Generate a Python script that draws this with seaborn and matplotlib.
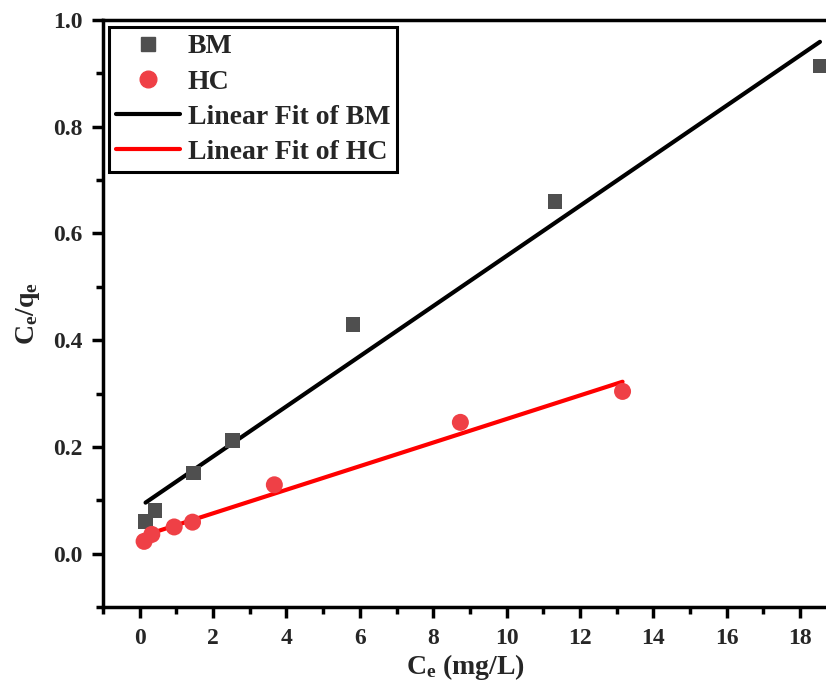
import matplotlib
matplotlib.use("Agg")
import matplotlib.pyplot as plt
import seaborn as sns
import pandas as pd
import numpy as np
from matplotlib.ticker import MultipleLocator
from matplotlib.lines import Line2D

# Data
bm_x = [0.16, 0.42, 1.46, 2.53, 5.81, 11.32, 18.54]
bm_y = [0.060, 0.081, 0.151, 0.212, 0.429, 0.660, 0.914]
hc_x = [0.12, 0.33, 0.94, 1.44, 3.67, 8.74, 13.16]
hc_y = [0.023, 0.036, 0.050, 0.059, 0.129, 0.246, 0.304]
x_ticks = [0, 2, 4, 6, 8, 10, 12, 14, 16, 18]
y_ticks = [0.0, 0.2, 0.4, 0.6, 0.8, 1.0]

sns.set_theme(style="white")
plt.rcParams['font.family'] = ['Liberation Serif', 'DejaVu Serif']
plt.rcParams['font.weight'] = 'bold'
plt.rcParams['mathtext.fontset'] = 'custom'
plt.rcParams['mathtext.rm'] = 'Liberation Serif:bold'
plt.rcParams['mathtext.it'] = 'Liberation Serif:bold'
plt.rcParams['mathtext.bf'] = 'Liberation Serif:bold'

bm = pd.DataFrame({"x": bm_x, "y": bm_y})
hc = pd.DataFrame({"x": hc_x, "y": hc_y})

fig = plt.figure(figsize=(8.26, 6.90), dpi=100)
ax = fig.add_axes([103/826, 1-607/690, 1 - 103/826 + 0.002, (607-20)/690])

sq_color = "#4f4f4f"
ci_color = "#ef4046"

sns.scatterplot(data=bm, x="x", y="y", marker="s", s=110, color=sq_color,
                edgecolor="none", ax=ax, zorder=3)
sns.scatterplot(data=hc, x="x", y="y", marker="o", s=150, color=ci_color,
                edgecolor="none", ax=ax, zorder=3)
sns.regplot(data=bm, x="x", y="y", scatter=False, ci=None, truncate=True,
            line_kws=dict(color="black", lw=3), ax=ax)
sns.regplot(data=hc, x="x", y="y", scatter=False, ci=None, truncate=True,
            line_kws=dict(color="#ff0000", lw=3), ax=ax)

ax.set_xlim(-1, 18.75)
ax.set_ylim(-0.1, 1.0)
ax.set_xticks(x_ticks)
ax.set_yticks(y_ticks)
ax.set_xticklabels([str(t) for t in x_ticks], fontsize=17, fontweight="bold")
ax.set_yticklabels([f"{t:.1f}" for t in y_ticks], fontsize=17, fontweight="bold")
ax.xaxis.set_minor_locator(MultipleLocator(1))
ax.yaxis.set_minor_locator(MultipleLocator(0.1))
ax.tick_params(which="major", direction="out", length=8, width=2.5,
               color="black", bottom=True, left=True, pad=7)
ax.tick_params(which="minor", direction="out", length=5, width=2.5,
               color="black", bottom=True, left=True)

for side in ["left", "bottom", "top"]:
    ax.spines[side].set_visible(True)
    ax.spines[side].set_color("black")
    ax.spines[side].set_linewidth(2.5)
ax.spines["right"].set_visible(False)

ax.set_xlabel(r"C$_{\mathrm{e}}$ (mg/L)", fontsize=20, fontweight="bold", labelpad=2)
ax.set_ylabel(r"C$_{\mathrm{e}}$/q$_{\mathrm{e}}$", fontsize=20, fontweight="bold", labelpad=8)

handles = [
    Line2D([], [], marker="s", ls="none", color=sq_color, markersize=10),
    Line2D([], [], marker="o", ls="none", color=ci_color, markersize=12),
    Line2D([], [], color="black", lw=3),
    Line2D([], [], color="#ff0000", lw=3),
]
labels = ["BM", "HC", "Linear Fit of BM", "Linear Fit of HC"]
leg = ax.legend(handles, labels, loc="upper left", bbox_to_anchor=(0.008, 0.988),
                fancybox=False, frameon=True, edgecolor="black", framealpha=1,
                prop={"family": "Liberation Serif", "weight": "bold", "size": 20},
                handlelength=2.3, handletextpad=0.3, labelspacing=0.35,
                borderpad=0.25, borderaxespad=0.0)
leg.get_frame().set_linewidth(2.2)

fig.savefig("out.png", dpi=100)
